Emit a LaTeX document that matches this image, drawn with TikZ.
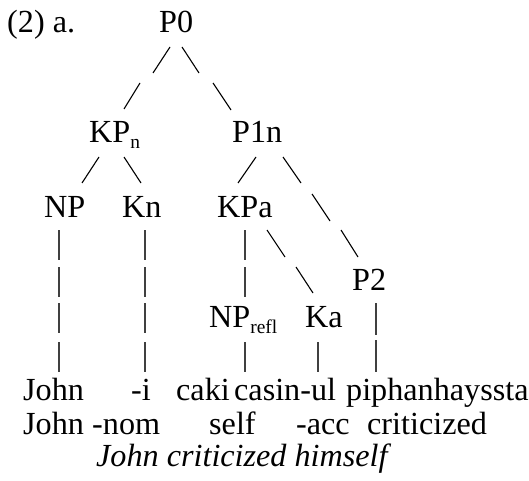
\documentclass[tikz,border=0pt]{standalone}
\usepackage{fontspec}
\setmainfont{Liberation Serif}
\newcommand{\subtxt}[1]{\raisebox{-6bp}{\fontsize{19.5}{20}\selectfont #1}}
\begin{document}
\begin{tikzpicture}[x=1bp,y=-1bp,
  lbl/.style={inner sep=0pt, anchor=base west, font=\fontsize{32.3}{36}\selectfont},
  ital/.style={lbl, font=\fontsize{32.3}{36}\selectfont\itshape},
  br/.style={line width=1.1bp},
  barline/.style={line width=1.2bp, black!75}]
\useasboundingbox (0,0) rectangle (529,481);
% labels
\node[lbl] (ex) at (7,33) {(2) a.};
\node[lbl] (p0) at (159,33) {P0};
\node[lbl] (kpn) at (89,143) {KP\subtxt{n}};
\node[lbl] (p1n) at (232,143) {P1n};
\node[lbl] (np) at (44,217) {NP};
\node[lbl] (kn) at (122,217) {Kn};
\node[lbl] (kpa) at (217,217) {KPa};
\node[lbl] (p2) at (352,290) {P2};
\node[lbl] (nprefl) at (209,327) {NP\subtxt{refl}};
\node[lbl] (ka) at (305,327) {Ka};
% words
\node[lbl] (w1) at (23,400) {John};
\node[lbl] (w2) at (131,400) {-i};
\node[lbl] (w3) at (176,400) {caki};
\node[lbl] (w4) at (234,400) {casin-ul};
\node[lbl] (w5) at (346,400) {piphanhayssta};
\node[lbl] (g1) at (23,434) {John};
\node[lbl] (g2) at (92,434) {-nom};
\node[lbl] (g3) at (209,434) {self};
\node[lbl] (g4) at (296,434) {-acc};
\node[lbl] (g5) at (367,434) {criticized};
\node[ital] (tr) at (96,466) {John criticized himself};
% slanted branches
\draw[br] (170,47) -- (153,73);
\draw[br] (182,47) -- (199,73);
\draw[br] (140,83) -- (124,109);
\draw[br] (213,83) -- (231,110);
\draw[br] (99,157) -- (82,183);
\draw[br] (124,157) -- (141,183);
\draw[br] (256,157) -- (238,183);
\draw[br] (283,157) -- (301,183);
\draw[br] (312,194) -- (330,221);
\draw[br] (341,230) -- (358,257);
\draw[br] (267,230) -- (285,257);
\draw[br] (296,267) -- (313,293);
% vertical bars
\foreach \x in {59,145}{
  \foreach \a/\b in {230/260,267/297,303/333,342/372}{
    \draw[barline] (\x,\a) -- (\x,\b);
  }
}
\foreach \a/\b in {230/260,267/297,342/372}{
  \draw[barline] (245,\a) -- (245,\b);
}
\draw[barline] (318,342) -- (318,372);
\draw[barline] (376,303) -- (376,335);
\draw[barline] (376,340) -- (376,372);
\end{tikzpicture}
\end{document}
